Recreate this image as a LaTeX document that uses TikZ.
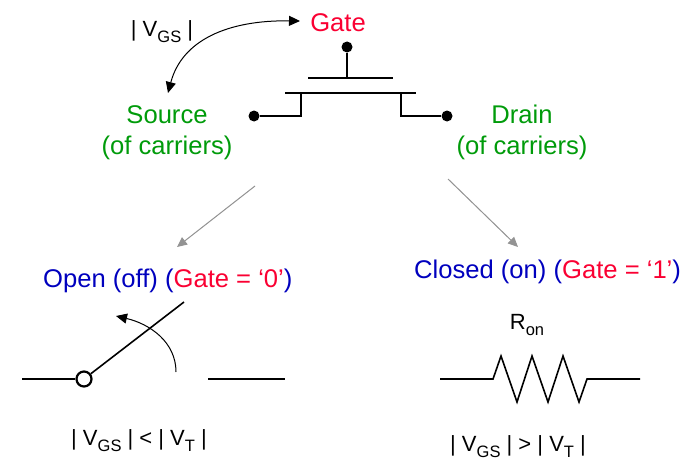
\documentclass[tikz,border=0pt]{standalone}
\usepackage{fontspec}
\setmainfont{Liberation Sans}
\usetikzlibrary{arrows.meta}
\definecolor{gred}{RGB}{250,0,50}
\definecolor{sgreen}{RGB}{0,155,10}
\definecolor{dblue}{RGB}{0,0,190}
\tikzset{
  x=1pt,y=-1pt,
  wire/.style={line width=1.6pt,black},
  thin wire/.style={line width=1pt,black},
  dot/.style={circle,fill=black,inner sep=0pt,minimum size=11pt},
  big/.style={font=\fontsize{25.6}{31}\selectfont,inner sep=0pt,align=center},
  lab/.style={font=\fontsize{22}{26}\selectfont,inner sep=0pt},
  tip/.style={-{Triangle[length=11pt,width=10pt]}},
  gray arrow/.style={draw=gray!85,fill=gray!85,line width=1pt,-{Triangle[length=10pt,width=9pt]}},
}
\newcommand{\subs}[1]{\raisebox{-0.3em}{\fontsize{16.5}{16.5}\selectfont #1}}
\begin{document}
\begin{tikzpicture}
\useasboundingbox (0,0) rectangle (692,460);
% MOSFET
\node[dot] (gd) at (347,47) {};
\coordinate (gb) at (347,78);
\coordinate (gl) at (308,78);
\coordinate (gr) at (393,78);
\coordinate (cl) at (285,93);
\coordinate (cr) at (416,93);
\node[dot] (sd) at (254,116) {};
\node[dot] (dd) at (447,116) {};
\coordinate (st) at (301,93);
\coordinate (dt) at (401,93);
\draw[wire] (gd) -- (gb);
\draw[wire] (gl) -- (gr);
\draw[wire] (cl) -- (cr);
\draw[wire] (sd) -| (st);
\draw[wire] (dd) -| (dt);
% labels
\node[big,text=gred] (gate) at (338,23) {Gate};
\node[big,text=sgreen] (source) at (167,132.5) {Source\\(of carriers)};
\node[big,text=sgreen] (drain) at (522,132.5) {Drain\\(of carriers)};
\node[lab] (vgs) at (162,31.5) {| V\subs{GS} |};
% Vgs arrow
\coordinate (ca) at (300,21);
\coordinate (cb) at (168,93);
\draw[thin wire,{Triangle[length=11pt,width=10pt]}-{Triangle[length=11pt,width=10pt]}] (ca) .. controls (228,20) and (182,40) .. (cb);
% branch arrows
\coordinate (b1) at (255,186);
\coordinate (b2) at (177,247);
\coordinate (b3) at (448,179);
\coordinate (b4) at (518,247);
\draw[gray arrow] (b1) -- (b2);
\draw[gray arrow] (b3) -- (b4);
% headings
\node[big,anchor=west,text=dblue] (open) at (43,280.5) {Open (off) (\textcolor{gred}{Gate = ‘0’})};
\node[big,anchor=west,text=dblue] (closed) at (414,272) {Closed (on) (\textcolor{gred}{Gate = ‘1’})};
% switch
\coordinate (s0) at (22,379);
\node[circle,draw=black,line width=2.2pt,fill=white,inner sep=0pt,minimum size=15pt] (piv) at (84,379) {};
\coordinate (s1) at (184,302);
\coordinate (s2) at (208,379);
\coordinate (s3) at (285,379);
\coordinate (a0) at (176,372);
\coordinate (a1) at (116,316);
\draw[wire] (s0) -- (piv);
\draw[wire] (piv) -- (s1);
\draw[wire] (s2) -- (s3);
\draw[thin wire,tip] (a0) .. controls (176,342) and (150,324) .. (a1);
\node[lab] (off) at (139,440.5) {| V\subs{GS} | < | V\subs{T} |};
% resistor
\coordinate (r0) at (440,379);
\coordinate (r1) at (640,379);
\draw[wire,line join=miter] (r0) -- (493,379) -- (501,356) -- (517,402) -- (532,356) -- (548,402) -- (563,356) -- (579,402) -- (587,379) -- (r1);
\node[lab] (ron) at (527,325) {R\subs{on}};
\node[lab] (on) at (518,446.5) {| V\subs{GS} | > | V\subs{T} |};
\end{tikzpicture}
\end{document}
